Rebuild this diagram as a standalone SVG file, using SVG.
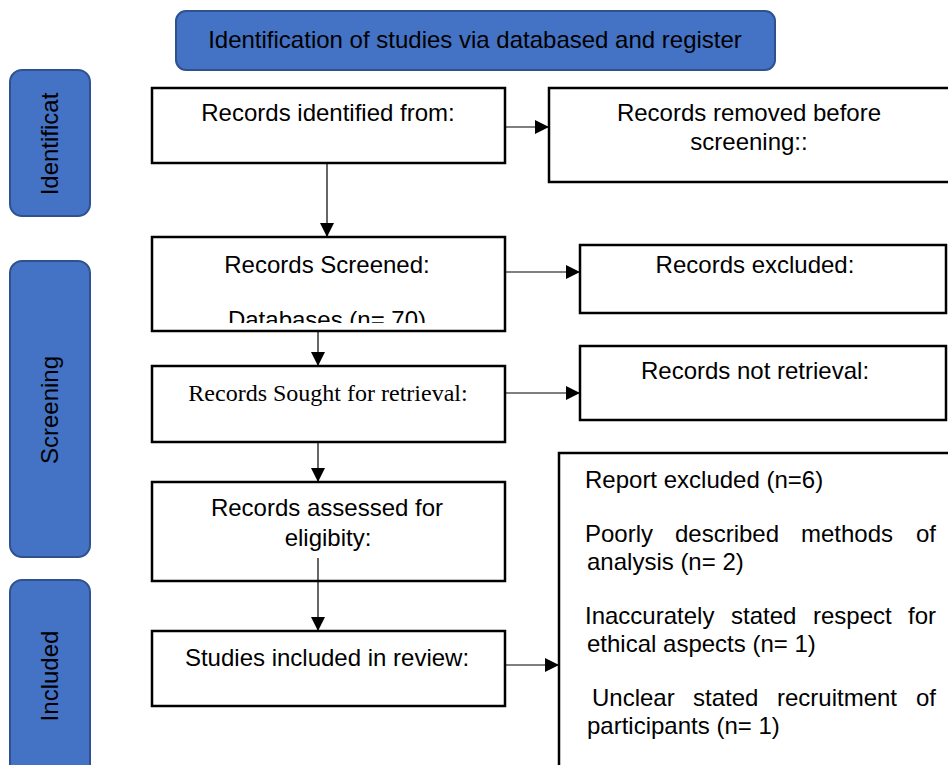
<svg xmlns="http://www.w3.org/2000/svg" width="948" height="765" viewBox="0 0 948 765">
<style>
.phase{fill:#4472C4;stroke:#2F528F;stroke-width:2}
.box{fill:#fff;stroke:#000;stroke-width:2.5}
.t{font-family:"Liberation Sans",Arial,sans-serif;font-size:24px;fill:#000}
.s{font-family:"Liberation Serif","Times New Roman",serif;font-size:24px;fill:#000}
.c{text-anchor:middle}
.e{text-anchor:end}
.ln{stroke:#000;stroke-width:1.2;fill:none}
</style>
<defs>
<marker id="ah" markerUnits="userSpaceOnUse" markerWidth="14" markerHeight="14" viewBox="0 0 14 14" refX="14" refY="7" orient="auto">
<path d="M0,0 L14,7 L0,14 z" fill="#000"/>
</marker>
<clipPath id="clip3"><rect x="152" y="237" width="353" height="86"/></clipPath>
</defs>
<g id="banner">
<rect class="phase" x="176" y="11" width="599" height="59" rx="10"/>
<text class="t c" x="475" y="48">Identification of studies via databased and register</text>
</g>
<g id="phase-identification">
<rect class="phase" x="10" y="70" width="80" height="146" rx="12"/>
<text class="t c" transform="translate(58,144) rotate(-90)">Identificat</text>
</g>
<g id="phase-screening">
<rect class="phase" x="10" y="261" width="80" height="296" rx="12"/>
<text class="t c" transform="translate(58,410) rotate(-90)">Screening</text>
</g>
<g id="phase-included">
<rect class="phase" x="10" y="580" width="80" height="200" rx="12"/>
<text class="t c" transform="translate(58,676) rotate(-90)">Included</text>
</g>
<g id="identified">
<rect class="box" x="152" y="88" width="353" height="75"/>
<text class="t c" x="328" y="121">Records identified from:</text>
</g>
<g id="removed">
<rect class="box" x="549" y="88" width="410" height="94"/>
<text class="t c" x="749" y="121">Records removed before</text>
<text class="t c" x="749" y="150">screening::</text>
</g>
<g id="screened">
<rect class="box" x="152" y="237" width="353" height="94"/>
<text class="t c" x="327" y="273">Records Screened:</text>
<text class="t c" x="327" y="328" clip-path="url(#clip3)">Databases (n= 70)</text>
</g>
<g id="excluded">
<rect class="box" x="580" y="245" width="366" height="68"/>
<text class="t c" x="755" y="273">Records excluded:</text>
</g>
<g id="sought">
<rect class="box" x="152" y="366" width="353" height="76"/>
<text class="s c" x="328" y="401">Records Sought for retrieval:</text>
</g>
<g id="not-retrieved">
<rect class="box" x="580" y="346" width="366" height="74"/>
<text class="t c" x="755" y="379">Records not retrieval:</text>
</g>
<g id="assessed">
<rect class="box" x="152" y="482" width="353" height="99"/>
<text class="t c" x="327" y="516">Records assessed for</text>
<text class="t c" x="328" y="546">eligibity:</text>
</g>
<g id="included">
<rect class="box" x="152" y="631" width="353" height="75"/>
<text class="t c" x="327" y="666">Studies included in review:</text>
</g>
<g id="reports-excluded">
<rect class="box" x="559" y="453" width="400" height="330"/>
<text class="t" x="585" y="488">Report excluded (n=6)</text>
<text class="t" x="585" y="542">Poorly</text>
<text class="t" x="675" y="542">described</text>
<text class="t" x="801" y="542">methods</text>
<text class="t e" x="936" y="542">of</text>
<text class="t" x="587" y="570">analysis (n= 2)</text>
<text class="t" x="585" y="624">Inaccurately</text>
<text class="t" x="731" y="624">stated</text>
<text class="t" x="813" y="624">respect</text>
<text class="t e" x="936" y="624">for</text>
<text class="t" x="587" y="652">ethical aspects (n= 1)</text>
<text class="t" x="592" y="706">Unclear</text>
<text class="t" x="693" y="706">stated</text>
<text class="t" x="777" y="706">recruitment</text>
<text class="t e" x="936" y="706">of</text>
<text class="t" x="587" y="734">participants (n= 1)</text>
</g>
<g id="connectors">
<line class="ln" x1="505" y1="127" x2="549" y2="127" marker-end="url(#ah)"/>
<line class="ln" x1="327" y1="163" x2="327" y2="237" marker-end="url(#ah)"/>
<line class="ln" x1="505" y1="272" x2="580" y2="272" marker-end="url(#ah)"/>
<line class="ln" x1="318" y1="331" x2="318" y2="366" marker-end="url(#ah)"/>
<line class="ln" x1="505" y1="393" x2="580" y2="393" marker-end="url(#ah)"/>
<line class="ln" x1="318" y1="442" x2="318" y2="482" marker-end="url(#ah)"/>
<line class="ln" x1="318" y1="558" x2="318" y2="631" marker-end="url(#ah)"/>
<line class="ln" x1="505" y1="665" x2="559" y2="665" marker-end="url(#ah)"/>
</g>
</svg>
